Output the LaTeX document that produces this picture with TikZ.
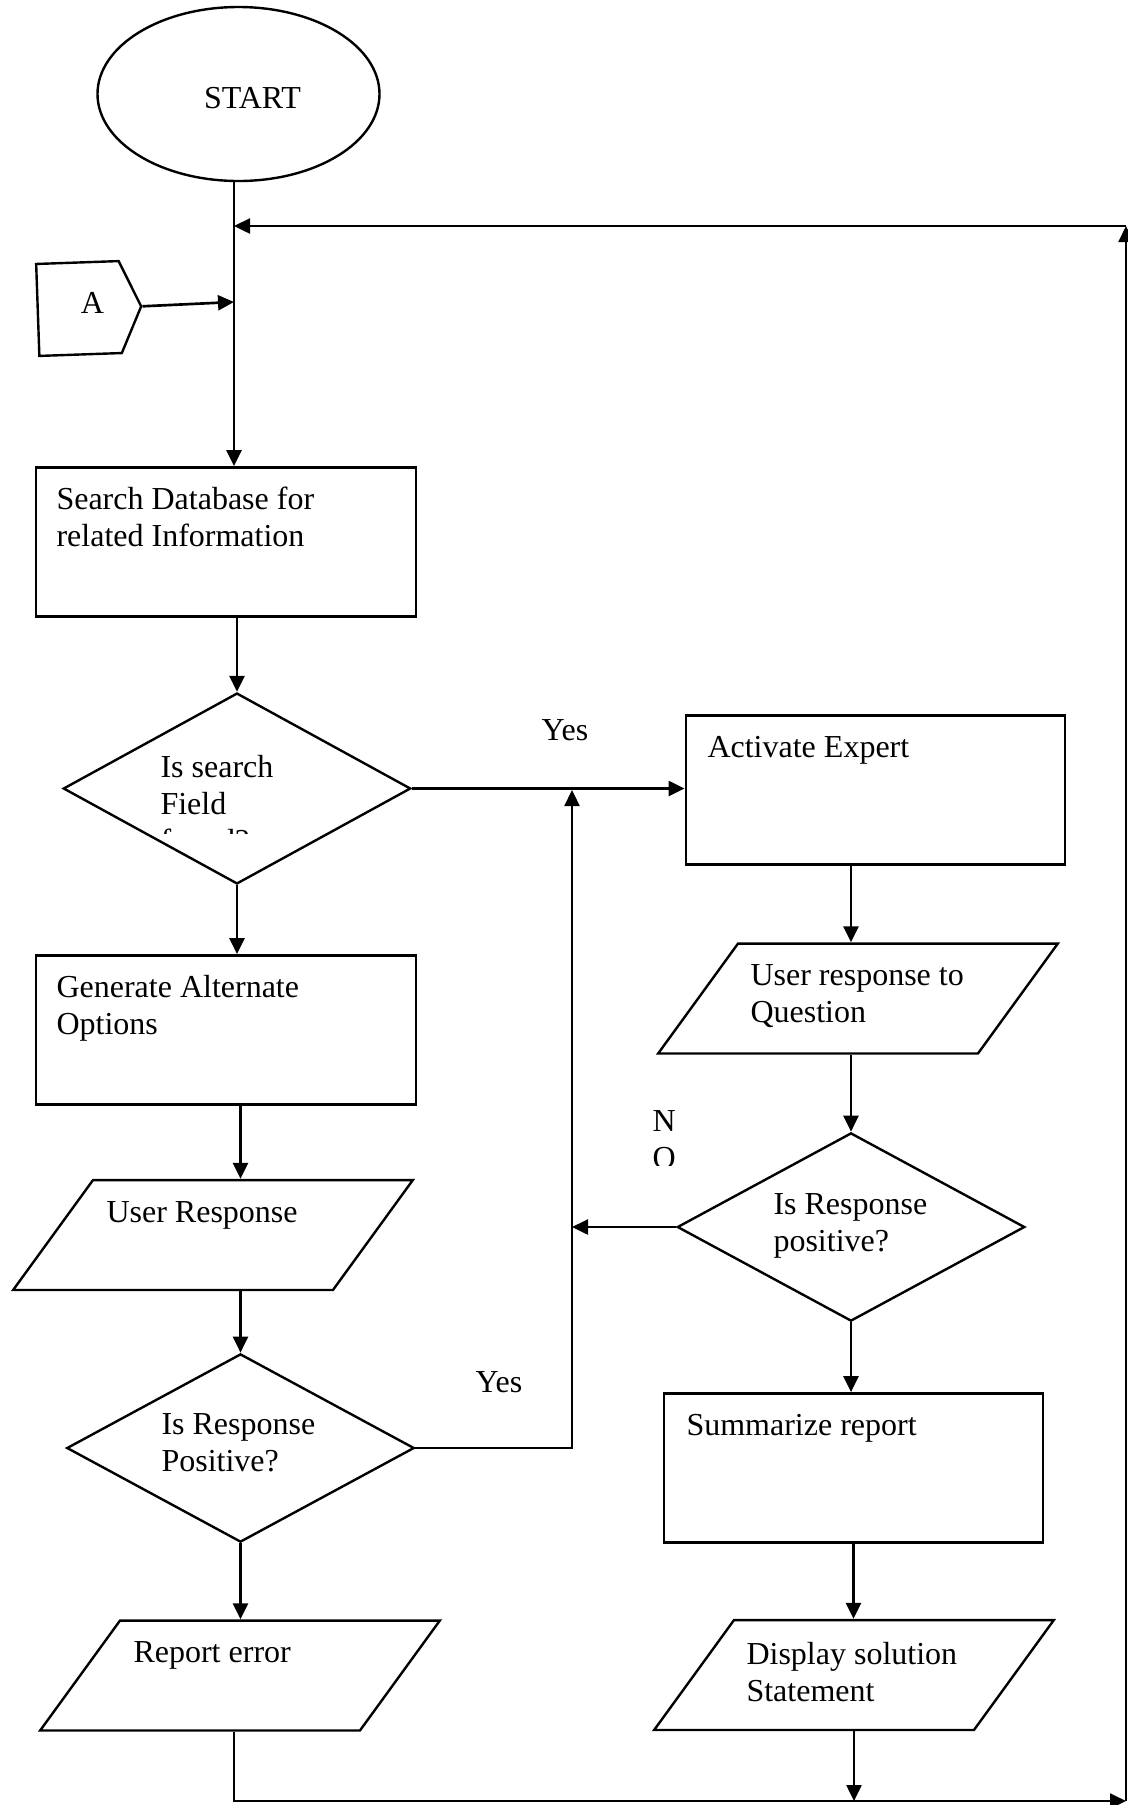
\documentclass[tikz,border=0pt]{standalone}
\usepackage{fontspec}
\setmainfont{Liberation Serif}
\usetikzlibrary{shapes.geometric,shapes.symbols,arrows.meta}
\begin{document}
\begin{tikzpicture}[
        x=0.375pt, y=-0.375pt,
        font=\fontsize{12}{13.9}\selectfont,
        terminal/.style={ellipse, draw, line width=0.9pt, minimum width=105.75pt, minimum height=65.25pt, inner sep=0},
        offpage/.style={signal, signal to=east, signal pointer angle=131, draw, line width=0.9pt, minimum width=38.8pt, minimum height=34.5pt, inner sep=0, rotate=2},
        process/.style={rectangle, draw, line width=0.9pt, minimum width=142.3pt, minimum height=56pt, inner sep=0},
        decision/.style={diamond, draw, line width=0.9pt, minimum width=130.3pt, minimum height=70.6pt, inner sep=0},
        io/.style={trapezium, trapezium left angle=54, trapezium right angle=126, draw, line width=0.9pt, inner xsep=45pt, inner ysep=20.6pt},
        txt/.style={anchor=north west, align=left, inner sep=0},
        flow/.style={line width=1pt, -{Triangle[length=6pt, width=5.6pt]}}
    ]
        \useasboundingbox (0,0) rectangle (1128,1805);

        % Shapes
        \node[terminal, label={[xshift=5.25pt, yshift=-1.5pt]center:START}] (start) at (238.5,94) {};
        \node[offpage, label={[xshift=5pt, yshift=2pt]center:A}] (A) at (79,308.5) {};
        \node[process] (search) at (226,542) {};
        \node[decision, minimum height=71.6pt] (found) at (237,788.5) {};
        \node[process] (expert) at (875.5,790) {};
        \node[process] (alt) at (226,1030) {};
        \node[io] (resp) at (213,1235) {};
        \node[io] (answer) at (858,998.5) {};
        \node[decision] (pos1) at (240.5,1448) {};
        \node[decision] (pos2) at (851,1227) {};
        \node[process] (summary) at (853.5,1468) {};
        \node[io] (error) at (240,1675.5) {};
        \node[io] (solution) at (854,1675) {};

        % Texts
        \node[txt] (searchT) at (56,486) {Search Database for\\related Information};
        \begin{scope}
            \clip (140,740) rectangle (420,833);
            \node[txt] (foundT) at (160,755) {Is search\\Field\\found?};
        \end{scope}
        \node[txt] (expertT) at (707,736) {Activate Expert};
        \node[txt] (altT) at (56,975) {Generate Alternate\\Options};
        \node[txt] (respT) at (106,1201) {User Response};
        \node[txt] (answerT) at (750,964) {User response to\\Question};
        \node[txt] (pos2T) at (773,1193) {Is Response\\positive?};
        \node[txt] (pos1T) at (161,1413) {Is Response\\Positive?};
        \node[txt] (summaryT) at (686,1414) {Summarize report};
        \node[txt] (errorT) at (133,1641) {Report error};
        \node[txt] (solutionT) at (746,1642) {Display solution\\Statement};
        \begin{scope}
            \clip (630,1095) rectangle (700,1165);
            \node[txt] (noT) at (652,1110) {N\\O};
        \end{scope}
        \node (yes1) at (565,730) {Yes};
        \node (yes2) at (499,1382) {Yes};

        % Junctions
        \coordinate (trunk) at (234,226);
        \coordinate (ajoin) at (234,302);
        \coordinate (back) at (1126,226);
        \coordinate (corner) at (1126,1801);
        \coordinate (merge) at (572,790);

        % Flow lines
        \draw[flow] (start.south -| trunk) -- (trunk |- search.north);
        \draw[flow] (A.east) -- (ajoin);
        \draw[flow] (back) -- (trunk);
        \draw[flow] (search.south -| found.north) -- (found.north);
        \draw[flow] (found.east) -- (found.east -| expert.west);
        \draw[flow] (found.south) -- (alt.north -| found.south);
        \draw[flow] (alt.south -| pos1.north) -- (resp.north -| pos1.north);
        \draw[flow] (resp.south -| pos1.north) -- (pos1.north);
        \draw[flow] (pos1.east) -| (merge);
        \draw[flow] (pos1.south) -- (error.north -| pos1.south);
        \draw[flow] (expert.south -| pos2.north) -- (answer.north -| pos2.north);
        \draw[flow] (answer.south -| pos2.north) -- (pos2.north);
        \draw[flow] (pos2.west) -- (pos2.west -| merge);
        \draw[flow] (pos2.south) -- (summary.north -| pos2.south);
        \draw[flow] (summary.south) -- (solution.north -| summary.south);
        \draw[flow] (solution.south) -- (solution.south |- corner);
        \draw[flow] (trunk |- error.south) |- (corner);
        \draw[flow] (corner) -- (back);
    \end{tikzpicture}
\end{document}
